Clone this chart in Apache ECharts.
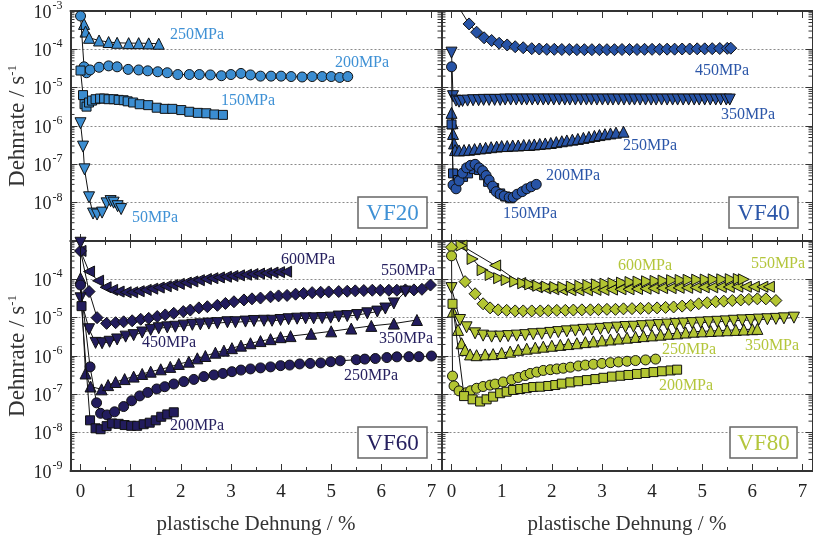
<!DOCTYPE html>
<html><head><meta charset="utf-8">
<script src="https://cdn.jsdelivr.net/npm/echarts@6/dist/echarts.min.js"></script>
<style>html,body{margin:0;padding:0;background:#fff}#c{width:813px;height:539px}</style>
</head><body><div id="c"></div>
<script>
// ---------- tick definitions ----------
const X_MAJOR = [0, 1, 2, 3, 4, 5, 6, 7];
const X_HALF = [0.5, 1.5, 2.5, 3.5, 4.5, 5.5, 6.5];
const Y_DECADE_EXP = [-9, -8, -7, -6, -5, -4];
const MINOR_MULT = [2, 3, 4, 5, 6, 7, 8, 9];

// ---------- VF20 ----------
const vf20_250 = [[0.07,4.6e-4],[0.10,2.9e-4],[0.17,2.0e-4],[0.37,1.7e-4],[0.56,1.55e-4],[0.73,1.48e-4],[0.96,1.45e-4],[1.16,1.45e-4],[1.36,1.43e-4],[1.56,1.4e-4]];
const vf20_200 = [[0,7.4e-4],[0.07,3.5e-5],[0.12,2.45e-5],[0.19,2.9e-5],[0.37,3.4e-5],[0.56,3.7e-5],[0.73,3.5e-5],[0.95,3.0e-5],[1.16,2.9e-5],[1.34,2.75e-5],[1.54,2.6e-5],[1.73,2.45e-5],[1.94,2.2e-5],[2.17,2.2e-5],[2.37,2.2e-5],[2.59,2.15e-5],[2.81,2.05e-5],[3.0,2.2e-5],[3.2,2.35e-5],[3.39,2.15e-5],[3.59,2.0e-5],[3.8,2.0e-5],[4.0,2.0e-5],[4.2,1.95e-5],[4.42,1.9e-5],[4.62,1.95e-5],[4.82,1.95e-5],[5.0,1.95e-5],[5.17,1.85e-5],[5.33,1.95e-5]];
const vf20_150 = [[0,2.8e-5],[0.05,6.4e-6],[0.08,3.7e-6],[0.12,3.2e-6],[0.17,4.1e-6],[0.23,4.6e-6],[0.30,5.0e-6],[0.39,5.2e-6],[0.47,5.2e-6],[0.56,5.0e-6],[0.66,5.0e-6],[0.76,4.8e-6],[0.86,4.7e-6],[0.94,4.4e-6],[1.05,4.1e-6],[1.18,3.7e-6],[1.35,3.5e-6],[1.52,3.0e-6],[1.68,2.8e-6],[1.83,2.8e-6],[2.01,2.6e-6],[2.17,2.35e-6],[2.34,2.2e-6],[2.51,2.15e-6],[2.67,2.0e-6],[2.84,1.95e-6]];
const vf20_50 = [[0,1.18e-6],[0.05,2.9e-7],[0.08,7.4e-8],[0.17,1.38e-8],[0.25,5.2e-9],[0.33,4.9e-9],[0.43,5.5e-9],[0.52,9.6e-9],[0.60,1.1e-8],[0.66,1.0e-8],[0.74,8.1e-9],[0.81,6.8e-9]];

// ---------- VF40 ----------
const vf40_450 = [[0,2.5e-3],[0.35,4.6e-4],[0.5,2.8e-4],[0.65,2.0e-4],[0.8,1.7e-4],[0.95,1.44e-4],[1.11,1.3e-4],[1.27,1.17e-4],[1.43,1.1e-4],[1.6,1.04e-4],[1.75,1.02e-4],[1.9,1.0e-4],[2.05,1.0e-4],[2.2,9.9e-5],[2.35,9.9e-5],[2.5,9.8e-5],[2.65,9.8e-5],[2.8,9.8e-5],[2.95,9.8e-5],[3.1,9.8e-5],[3.25,9.8e-5],[3.4,9.9e-5],[3.55,9.9e-5],[3.7,9.9e-5],[3.85,1.0e-4],[4.0,1.0e-4],[4.15,1.0e-4],[4.3,1.01e-4],[4.45,1.01e-4],[4.6,1.02e-4],[4.75,1.02e-4],[4.9,1.03e-4],[5.05,1.03e-4],[5.2,1.04e-4],[5.35,1.05e-4],[5.5,1.06e-4],[5.57,1.07e-4]];
const vf40_350 = [[0,8.2e-5],[0.03,6.0e-6],[0.09,4.6e-6],[0.15,4.3e-6],[0.22,4.5e-6],[0.32,4.6e-6],[0.43,4.7e-6],[0.54,4.7e-6],[0.64,4.8e-6],[0.75,4.8e-6],[0.86,4.8e-6],[0.97,4.8e-6],[1.07,4.9e-6],[1.18,4.9e-6],[1.29,4.9e-6],[1.4,4.9e-6],[1.5,4.9e-6],[1.61,4.9e-6],[1.72,4.9e-6],[1.83,4.9e-6],[1.93,4.9e-6],[2.04,4.9e-6],[2.15,4.9e-6],[2.26,4.9e-6],[2.36,4.9e-6],[2.47,4.9e-6],[2.58,4.9e-6],[2.69,4.9e-6],[2.79,4.9e-6],[2.9,4.9e-6],[3.01,4.9e-6],[3.12,4.9e-6],[3.22,4.9e-6],[3.33,4.9e-6],[3.44,4.9e-6],[3.55,4.9e-6],[3.65,4.9e-6],[3.76,4.9e-6],[3.87,4.9e-6],[3.98,4.9e-6],[4.08,4.9e-6],[4.19,4.9e-6],[4.3,4.9e-6],[4.41,4.9e-6],[4.51,4.9e-6],[4.62,4.9e-6],[4.73,4.9e-6],[4.84,4.9e-6],[4.94,4.9e-6],[5.05,4.9e-6],[5.16,4.9e-6],[5.27,4.9e-6],[5.37,4.9e-6],[5.48,4.9e-6],[5.55,4.9e-6]];
const vf40_250 = [[0,2.2e-6],[0.02,1.18e-6],[0.03,6.2e-7],[0.05,3.5e-7],[0.07,2.35e-7],[0.15,2.3e-7],[0.25,2.35e-7],[0.35,2.4e-7],[0.46,2.5e-7],[0.57,2.6e-7],[0.68,2.7e-7],[0.79,2.8e-7],[0.9,2.9e-7],[1.0,3.0e-7],[1.11,3.0e-7],[1.22,3.1e-7],[1.33,3.1e-7],[1.44,3.2e-7],[1.55,3.2e-7],[1.65,3.3e-7],[1.76,3.4e-7],[1.87,3.5e-7],[1.98,3.6e-7],[2.09,3.8e-7],[2.2,4.0e-7],[2.3,4.2e-7],[2.41,4.4e-7],[2.52,4.6e-7],[2.63,4.9e-7],[2.74,5.2e-7],[2.85,5.5e-7],[2.95,5.8e-7],[3.06,6.1e-7],[3.17,6.4e-7],[3.28,6.7e-7],[3.43,7.1e-7]];
const vf40_200 = [[0,3.5e-5],[0.03,2.9e-8],[0.09,2.3e-8],[0.15,3.7e-8],[0.22,5.9e-8],[0.30,8.1e-8],[0.38,9.4e-8],[0.47,1.0e-7],[0.55,8.1e-8],[0.62,6.8e-8],[0.69,5.1e-8],[0.75,3.9e-8],[0.82,2.7e-8],[0.89,1.94e-8],[0.97,1.66e-8],[1.05,1.5e-8],[1.15,1.38e-8],[1.23,1.38e-8],[1.31,1.66e-8],[1.41,1.94e-8],[1.5,2.3e-8],[1.59,2.6e-8],[1.69,3.0e-8]];
const vf40_150 = [[0,1.1e-6],[0.03,5.8e-8],[0.13,3.9e-8],[0.23,4.7e-8],[0.33,5.8e-8],[0.45,7.5e-8],[0.55,7.1e-8],[0.65,5.2e-8],[0.73,3.5e-8],[0.85,2.4e-8],[0.97,1.74e-8],[1.07,1.45e-8],[1.17,1.3e-8]];

// ---------- VF60 ----------
const vf60_600 = [[0,5.5e-4],[0.17,1.6e-4],[0.35,9.2e-5],[0.5,6.2e-5],[0.63,5.3e-5],[0.76,4.8e-5],[0.9,4.6e-5],[1.03,4.6e-5],[1.16,4.9e-5],[1.3,5.3e-5],[1.43,5.7e-5],[1.56,6.1e-5],[1.7,6.6e-5],[1.83,7.1e-5],[1.96,7.6e-5],[2.1,8.2e-5],[2.23,8.8e-5],[2.36,9.5e-5],[2.5,1.02e-4],[2.63,1.07e-4],[2.76,1.12e-4],[2.9,1.17e-4],[3.03,1.22e-4],[3.16,1.27e-4],[3.3,1.32e-4],[3.43,1.37e-4],[3.56,1.41e-4],[3.7,1.45e-4],[3.83,1.5e-4],[3.96,1.54e-4],[4.1,1.58e-4]];
const vf60_550 = [[0,5.5e-4],[0.17,4.8e-5],[0.33,1.0e-5],[0.52,7.1e-6],[0.70,7.4e-6],[0.86,7.8e-6],[1.03,8.3e-6],[1.2,9.1e-6],[1.36,9.6e-6],[1.53,1.07e-5],[1.69,1.18e-5],[1.86,1.3e-5],[2.05,1.44e-5],[2.19,1.58e-5],[2.36,1.8e-5],[2.53,1.93e-5],[2.73,2.1e-5],[2.89,2.35e-5],[3.06,2.6e-5],[3.26,2.9e-5],[3.42,3.1e-5],[3.59,3.25e-5],[3.79,3.5e-5],[3.95,3.7e-5],[4.12,3.8e-5],[4.29,4.1e-5],[4.45,4.3e-5],[4.62,4.5e-5],[4.79,4.6e-5],[4.95,4.7e-5],[5.15,4.8e-5],[5.32,4.9e-5],[5.48,5.0e-5],[5.65,5.1e-5],[5.82,5.2e-5],[5.98,5.2e-5],[6.15,5.2e-5],[6.31,5.2e-5],[6.48,5.3e-5],[6.65,5.3e-5],[6.81,5.5e-5],[6.98,7.1e-5]];
const vf60_450 = [[0,9e-4],[0,3.2e-5],[0.17,5.0e-6],[0.30,2.2e-6],[0.43,2.15e-6],[0.58,2.35e-6],[0.73,2.7e-6],[0.90,3.2e-6],[1.06,3.5e-6],[1.23,4.1e-6],[1.40,4.8e-6],[1.56,5.3e-6],[1.73,5.6e-6],[1.89,5.8e-6],[2.06,6.2e-6],[2.23,6.5e-6],[2.39,6.7e-6],[2.56,7.0e-6],[2.73,7.2e-6],[2.93,7.6e-6],[3.09,7.6e-6],[3.29,7.9e-6],[3.46,8.2e-6],[3.66,8.3e-6],[3.82,8.3e-6],[3.99,8.7e-6],[4.15,9.1e-6],[4.32,9.4e-6],[4.49,9.6e-6],[4.65,9.6e-6],[4.82,9.8e-6],[4.99,1.0e-5],[5.15,1.07e-5],[5.32,1.1e-5],[5.52,1.17e-5],[5.72,1.3e-5],[5.92,1.44e-5],[6.08,1.73e-5],[6.25,2.35e-5],[6.48,4.8e-5]];
const vf60_350 = [[0,1.07e-4],[0.1,3.5e-7],[0.2,1.6e-7],[0.42,1.35e-7],[0.55,1.74e-7],[0.70,2.1e-7],[0.88,2.5e-7],[1.06,2.9e-7],[1.23,3.4e-7],[1.40,3.9e-7],[1.60,4.5e-7],[1.79,5.2e-7],[1.96,6.2e-7],[2.16,7.1e-7],[2.33,8.7e-7],[2.49,1.0e-6],[2.69,1.22e-6],[2.86,1.38e-6],[3.02,1.6e-6],[3.2,1.86e-6],[3.39,2.15e-6],[3.59,2.45e-6],[3.79,2.75e-6],[3.99,3.1e-6],[4.19,3.3e-6],[4.6,3.8e-6],[5.0,4.4e-6],[5.4,5.2e-6],[5.8,6.1e-6],[6.25,7.0e-6],[6.71,8.7e-6]];
const vf60_250 = [[0,7.1e-5],[0.19,5.2e-7],[0.32,6.0e-8],[0.40,3.2e-8],[0.53,2.9e-8],[0.68,3.5e-8],[0.86,4.8e-8],[1.02,6.8e-8],[1.18,9.1e-8],[1.34,1.12e-7],[1.52,1.38e-7],[1.68,1.58e-7],[1.86,1.86e-7],[2.06,2.15e-7],[2.26,2.45e-7],[2.46,2.9e-7],[2.66,3.2e-7],[2.84,3.5e-7],[3.02,3.9e-7],[3.2,4.3e-7],[3.39,4.6e-7],[3.59,4.9e-7],[3.79,5.2e-7],[3.99,5.6e-7],[4.17,5.8e-7],[4.37,6.2e-7],[4.58,6.4e-7],[4.79,6.6e-7],[4.99,7.1e-7],[5.18,7.5e-7],[5.5,8.0e-7],[5.67,8.3e-7],[5.88,8.6e-7],[6.11,9.1e-7],[6.31,9.5e-7],[6.55,9.6e-7],[6.75,9.6e-7],[7.0,1.0e-6]];
const vf60_200 = [[0.02,2.0e-5],[0.19,2.1e-8],[0.30,1.3e-8],[0.40,1.23e-8],[0.52,1.48e-8],[0.63,1.74e-8],[0.76,1.7e-8],[0.88,1.58e-8],[1.01,1.51e-8],[1.13,1.51e-8],[1.26,1.66e-8],[1.38,1.82e-8],[1.50,2.1e-8],[1.61,2.6e-8],[1.73,3.0e-8],[1.86,3.4e-8]];

// ---------- VF80 ----------
const vf80_right = [[0.2,7.6e-4],[0.42,3.4e-4],[0.62,1.74e-4],[0.78,1.3e-4],[0.95,1.07e-4],[1.1,9.6e-5],[1.27,8.7e-5],[1.43,7.9e-5],[1.57,7.4e-5],[1.73,6.8e-5],[1.9,6.5e-5],[2.07,6.3e-5],[2.23,6.3e-5],[2.4,6.5e-5],[2.57,6.8e-5],[2.73,7.1e-5],[2.9,7.4e-5],[3.07,7.7e-5],[3.23,7.9e-5],[3.4,8.2e-5],[3.57,8.5e-5],[3.73,8.7e-5],[3.9,8.9e-5],[4.07,9.1e-5],[4.23,9.3e-5],[4.4,9.5e-5],[4.57,9.6e-5],[4.73,9.7e-5],[4.9,9.8e-5],[5.07,9.9e-5],[5.23,1.0e-4],[5.4,1.0e-4],[5.57,1.01e-4],[5.73,1.02e-4],[5.83,1.0e-4]];
const vf80_left = [[0.2,7.6e-4],[0.87,2.3e-4],[1.37,8.0e-5],[1.53,7.0e-5],[1.7,6.2e-5],[1.87,5.8e-5],[2.03,5.5e-5],[2.2,5.3e-5],[2.37,5.2e-5],[2.53,5.2e-5],[2.7,5.2e-5],[2.87,5.3e-5],[3.03,5.3e-5],[3.2,5.4e-5],[3.37,5.5e-5],[3.53,5.5e-5],[3.7,5.6e-5],[3.87,5.7e-5],[4.03,5.8e-5],[4.2,5.9e-5],[4.37,5.9e-5],[4.53,6.0e-5],[4.7,6.0e-5],[4.87,6.1e-5],[5.03,6.2e-5],[5.2,6.2e-5],[5.37,6.3e-5],[5.53,6.3e-5],[5.7,6.4e-5],[5.87,6.4e-5],[6.03,6.4e-5],[6.2,6.4e-5],[6.33,6.4e-5]];
const vf80_diam = [[0,6.9e-4],[0.27,8.7e-5],[0.47,4.2e-5],[0.63,2.3e-5],[0.77,1.8e-5],[0.93,1.6e-5],[1.1,1.55e-5],[1.27,1.5e-5],[1.43,1.5e-5],[1.6,1.5e-5],[1.77,1.5e-5],[1.93,1.52e-5],[2.1,1.55e-5],[2.27,1.55e-5],[2.43,1.58e-5],[2.6,1.6e-5],[2.77,1.6e-5],[2.93,1.62e-5],[3.1,1.65e-5],[3.27,1.65e-5],[3.43,1.7e-5],[3.6,1.72e-5],[3.77,1.74e-5],[3.93,1.76e-5],[4.1,1.8e-5],[4.27,1.85e-5],[4.43,1.9e-5],[4.6,2.0e-5],[4.77,2.1e-5],[4.93,2.3e-5],[5.1,2.45e-5],[5.27,2.6e-5],[5.43,2.7e-5],[5.6,2.8e-5],[5.77,2.9e-5],[5.93,3.0e-5],[6.1,3.1e-5],[6.27,3.1e-5],[6.47,2.8e-5]];
const vf80_down = [[0,5.9e-5],[0.17,8.7e-6],[0.3,5.6e-6],[0.47,3.9e-6],[0.63,3.4e-6],[0.8,3.2e-6],[0.97,3.2e-6],[1.13,3.3e-6],[1.3,3.4e-6],[1.47,3.5e-6],[1.63,3.7e-6],[1.8,3.8e-6],[1.97,4.0e-6],[2.13,4.2e-6],[2.3,4.4e-6],[2.47,4.6e-6],[2.63,4.8e-6],[2.8,4.9e-6],[2.97,5.1e-6],[3.13,5.3e-6],[3.3,5.5e-6],[3.47,5.7e-6],[3.63,5.8e-6],[3.8,6.0e-6],[3.97,6.2e-6],[4.13,6.4e-6],[4.3,6.6e-6],[4.47,6.8e-6],[4.63,7.0e-6],[4.8,7.2e-6],[4.97,7.4e-6],[5.13,7.6e-6],[5.3,7.8e-6],[5.47,8.0e-6],[5.63,8.3e-6],[5.8,8.5e-6],[5.97,8.7e-6],[6.13,8.9e-6],[6.3,9.1e-6],[6.47,9.3e-6],[6.63,9.6e-6],[6.83,1.0e-5]];
const vf80_up = [[0.03,1.44e-5],[0.13,4.8e-6],[0.2,2.15e-6],[0.27,1.44e-6],[0.37,1.1e-6],[0.5,1.05e-6],[0.67,1.1e-6],[0.83,1.12e-6],[1.0,1.2e-6],[1.17,1.3e-6],[1.33,1.45e-6],[1.5,1.55e-6],[1.67,1.65e-6],[1.83,1.75e-6],[2.0,1.85e-6],[2.17,1.95e-6],[2.33,2.05e-6],[2.5,2.15e-6],[2.67,2.3e-6],[2.83,2.4e-6],[3.0,2.55e-6],[3.17,2.7e-6],[3.33,2.85e-6],[3.5,3.0e-6],[3.67,3.15e-6],[3.83,3.3e-6],[4.0,3.45e-6],[4.17,3.6e-6],[4.33,3.8e-6],[4.5,3.9e-6],[4.67,4.1e-6],[4.83,4.3e-6],[5.0,4.4e-6],[5.17,4.5e-6],[5.33,4.6e-6],[5.5,4.7e-6],[5.67,4.8e-6],[5.83,4.9e-6],[6.0,5.0e-6],[6.1,5.1e-6]];
const vf80_circ = [[0,4.1e-4],[0.02,3.0e-7],[0.05,1.66e-7],[0.15,1.23e-7],[0.29,1.1e-7],[0.38,1.24e-7],[0.5,1.44e-7],[0.63,1.6e-7],[0.77,1.74e-7],[0.87,1.85e-7],[1.03,2.1e-7],[1.2,2.4e-7],[1.33,2.75e-7],[1.47,3.1e-7],[1.57,3.5e-7],[1.7,3.8e-7],[1.83,4.2e-7],[1.97,4.4e-7],[2.1,4.6e-7],[2.23,4.8e-7],[2.37,5.1e-7],[2.53,5.5e-7],[2.67,5.8e-7],[2.83,6.1e-7],[3.0,6.4e-7],[3.17,6.7e-7],[3.33,7.0e-7],[3.5,7.3e-7],[3.67,7.6e-7],[3.87,7.9e-7],[4.07,8.3e-7]];
const vf80_sq = [[0.02,2.3e-5],[0.25,9.0e-8],[0.42,7.4e-8],[0.57,6.5e-8],[0.7,7.4e-8],[0.83,8.7e-8],[0.97,1.07e-7],[1.1,1.17e-7],[1.23,1.3e-7],[1.37,1.38e-7],[1.5,1.45e-7],[1.63,1.55e-7],[1.77,1.58e-7],[1.93,1.65e-7],[2.07,1.75e-7],[2.2,1.9e-7],[2.37,2.05e-7],[2.53,2.2e-7],[2.7,2.35e-7],[2.87,2.5e-7],[3.03,2.7e-7],[3.2,2.9e-7],[3.37,3.05e-7],[3.53,3.2e-7],[3.7,3.4e-7],[3.87,3.6e-7],[4.03,3.8e-7],[4.2,4.0e-7],[4.37,4.2e-7],[4.5,4.4e-7]];

// ---------- styling / layout ----------
const FONT = 'Liberation Serif';
const AX = '#333';
const SYM = {
  circ: {symbol: 'circle', size: 10, rot: 0},
  sq: {symbol: 'rect', size: 9, rot: 0},
  up: {symbol: 'triangle', size: 11, rot: 0},
  down: {symbol: 'triangle', size: 11, rot: 180},
  left: {symbol: 'triangle', size: 11, rot: 90},
  right: {symbol: 'triangle', size: 11, rot: -90},
  diam: {symbol: 'diamond', size: 12, rot: 0}
};
const GW = 371, GH = 230;
const panels = [
  {name: 'VF20', left: 70.5, top: 11, fill: '#3b8dd1', txt: '#3f91d5', yLab: [-8, -3], xLab: false,
   box: [358, 197, 69, 31],
   series: [[vf20_250, 'up'], [vf20_200, 'circ'], [vf20_150, 'sq'], [vf20_50, 'down']],
   labels: [['250MPa', 197, 35], ['200MPa', 362, 63], ['150MPa', 248, 101], ['50MPa', 155, 218]]},
  {name: 'VF40', left: 441.5, top: 11, fill: '#2753a6', txt: '#2b56a8', yLab: null, xLab: false,
   box: [729, 197, 69, 31],
   series: [[vf40_450, 'diam'], [vf40_350, 'down'], [vf40_250, 'up'], [vf40_150, 'sq'], [vf40_200, 'circ']],
   labels: [['450MPa', 722, 71], ['350MPa', 748, 115], ['250MPa', 650, 146], ['200MPa', 573, 176], ['150MPa', 530, 214]]},
  {name: 'VF60', left: 70.5, top: 241, fill: '#221c5d', txt: '#26205f', yLab: [-9, -4], xLab: true,
   box: [358, 427, 69, 31],
   series: [[vf60_600, 'left'], [vf60_550, 'diam'], [vf60_450, 'down'], [vf60_350, 'up'], [vf60_250, 'circ'], [vf60_200, 'sq']],
   labels: [['600MPa', 308, 260], ['550MPa', 408, 271], ['450MPa', 169, 343], ['350MPa', 406, 339], ['250MPa', 371, 376], ['200MPa', 197, 426]]},
  {name: 'VF80', left: 441.5, top: 241, fill: '#b3c532', txt: '#b4c63c', yLab: null, xLab: true,
   box: [730, 427, 67, 31],
   series: [[vf80_left, 'left'], [vf80_right, 'right'], [vf80_diam, 'diam'], [vf80_up, 'up'], [vf80_down, 'down'], [vf80_circ, 'circ'], [vf80_sq, 'sq']],
   labels: [['600MPa', 645, 266], ['550MPa', 778, 264], ['250MPa', 689, 350], ['350MPa', 772, 346], ['200MPa', 686, 386]]}
];

const minorVals = [];
Y_DECADE_EXP.forEach(e => MINOR_MULT.forEach(m => minorVals.push(m * Math.pow(10, e))));

const grid = [], xAxis = [], yAxis = [], series = [], graphic = [];
panels.forEach((p, i) => {
  grid.push({left: p.left, top: p.top, width: GW, height: GH, containLabel: false});
  const baseX = {type: 'value', gridIndex: i, min: -0.2, max: 7.2, splitLine: {show: false},
                 axisLine: {show: false, onZero: false}, axisLabel: {show: false}};
  xAxis.push(Object.assign({}, baseX, {position: 'bottom',
    axisLine: {show: true, onZero: false, lineStyle: {color: AX, width: 2}},
    axisTick: {show: true, inside: true, length: 7, customValues: X_MAJOR, lineStyle: {color: AX, width: 1}},
    axisLabel: {show: p.xLab, customValues: X_MAJOR, margin: 12, fontFamily: FONT, fontSize: 19, color: '#222'}}));
  xAxis.push(Object.assign({}, baseX, {position: 'bottom',
    axisTick: {show: true, inside: true, length: 4, customValues: X_HALF, lineStyle: {color: AX, width: 1}}}));
  xAxis.push(Object.assign({}, baseX, {position: 'top',
    axisLine: {show: true, onZero: false, lineStyle: {color: AX, width: 2}},
    axisTick: {show: true, inside: true, length: 7, customValues: X_MAJOR, lineStyle: {color: AX, width: 1}}}));
  xAxis.push(Object.assign({}, baseX, {position: 'top',
    axisTick: {show: true, inside: true, length: 4, customValues: X_HALF, lineStyle: {color: AX, width: 1}}}));
  const yr = p.yLab;
  yAxis.push({type: 'log', logBase: 10, gridIndex: i, position: 'left', min: 1e-9, max: 1e-3,
    axisLine: {show: true, onZero: false, lineStyle: {color: AX, width: 2}},
    axisTick: {show: true, inside: true, length: 7, lineStyle: {color: AX, width: 1}},
    splitLine: {show: true, lineStyle: {color: '#8a8a8a', type: [2, 2], width: 1}},
    axisLabel: {show: !!yr, showMinLabel: true, showMaxLabel: true, margin: 8,
      formatter: v => {
        const e = Math.round(Math.log10(v));
        if (!yr || e < yr[0] || e > yr[1]) return '';
        return '{b|10}{s|' + e + '}';
      },
      rich: {b: {fontFamily: FONT, fontSize: 18, color: '#222', lineHeight: 22, verticalAlign: 'bottom'},
             s: {fontFamily: FONT, fontSize: 12, color: '#222', lineHeight: 22, verticalAlign: 'top', padding: [0, 0, 0, 1]}}}});
  yAxis.push({type: 'log', logBase: 10, gridIndex: i, position: 'right', min: 1e-9, max: 1e-3,
    axisLine: {show: true, onZero: false, lineStyle: {color: AX, width: 2}},
    axisTick: {show: true, inside: true, length: 7, lineStyle: {color: AX, width: 1}},
    splitLine: {show: false}, axisLabel: {show: false}});

  // minor log ticks on both vertical edges
  const tickData = [];
  minorVals.forEach(v => { tickData.push([-0.2, v, 1]); tickData.push([7.2, v, -1]); });
  series.push({type: 'custom', xAxisIndex: 4 * i, yAxisIndex: 2 * i, clip: false, silent: true, z: 5,
    data: tickData,
    renderItem: (params, api) => {
      const pt = api.coord([api.value(0), api.value(1)]);
      const d = api.value(2);
      return {type: 'line', shape: {x1: pt[0], y1: pt[1], x2: pt[0] + 4 * d, y2: pt[1]},
              style: {stroke: AX, lineWidth: 1}};
    }});

  p.series.forEach(([data, key], k) => {
    const s = SYM[key];
    series.push({type: 'line', xAxisIndex: 4 * i, yAxisIndex: 2 * i, data: data,
      symbol: s.symbol, symbolSize: s.size, symbolRotate: s.rot, showSymbol: true, showAllSymbol: true,
      clip: true, z: 10 + k, animation: false,
      lineStyle: {color: '#111', width: 1},
      itemStyle: {color: p.fill, borderColor: '#111', borderWidth: 1}});
  });

  p.labels.forEach(([t, x, y]) => {
    graphic.push({type: 'text', x: x, y: y, z: 100,
      style: {text: t, fill: p.txt, fontFamily: FONT, fontSize: 16, align: 'center', verticalAlign: 'middle'}});
  });
  const b = p.box;
  graphic.push({type: 'rect', z: 100, shape: {x: b[0], y: b[1], width: b[2], height: b[3]},
    style: {fill: '#fff', stroke: '#666', lineWidth: 1.5}});
  graphic.push({type: 'text', z: 101, x: b[0] + b[2] / 2, y: b[1] + b[3] / 2 + 1,
    style: {text: p.name, fill: p.txt, fontFamily: FONT, fontSize: 23, align: 'center', verticalAlign: 'middle'}});
});

// axis titles
[126, 356].forEach(cy => {
  graphic.push({type: 'text', x: 18, y: cy, rotation: Math.PI / 2, z: 100,
    style: {text: 'Dehnrate / s{s|-1}', fill: '#333', fontFamily: FONT, fontSize: 23, align: 'center', verticalAlign: 'middle',
      rich: {s: {fontFamily: FONT, fontSize: 13, fill: '#333', verticalAlign: 'top', lineHeight: 24}}}});
});
[256, 627].forEach(cx => {
  graphic.push({type: 'text', x: cx, y: 524, z: 100,
    style: {text: 'plastische Dehnung / %', fill: '#333', fontFamily: FONT, fontSize: 21, align: 'center', verticalAlign: 'middle'}});
});

const chart = echarts.init(document.getElementById('c'), null, {renderer: 'canvas'});
chart.setOption({animation: false, backgroundColor: '#fff', grid, xAxis, yAxis, series, graphic});
</script></body></html>
